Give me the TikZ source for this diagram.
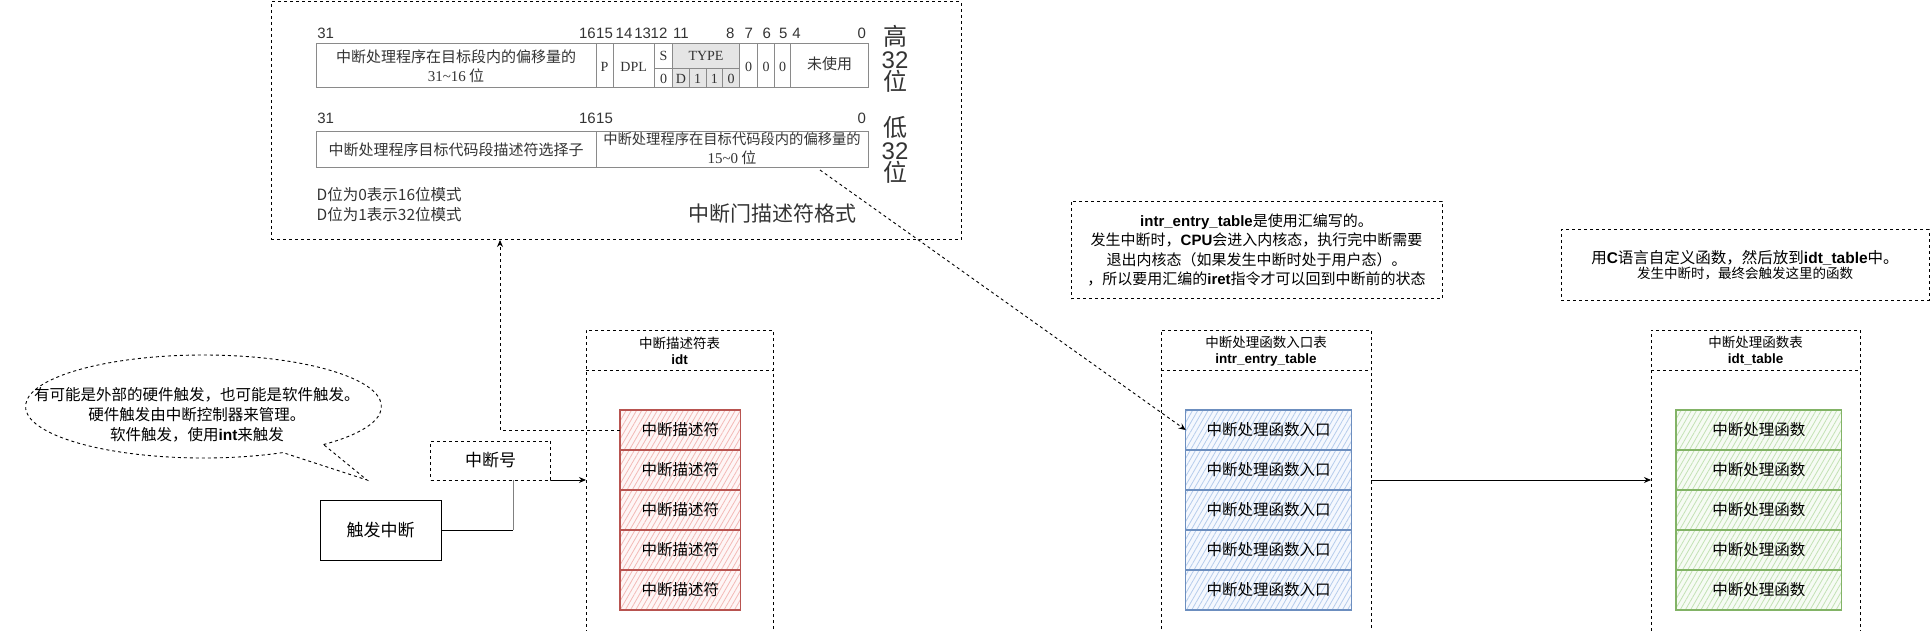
\documentclass[tikz,border=0pt]{standalone}
\usepackage{fontspec}
\setmainfont{Noto Sans CJK SC}
\newfontfamily\lat{Liberation Sans}
\newfontfamily\latserif{Liberation Serif}
\usetikzlibrary{arrows.meta,patterns.meta}
\newcommand\B[1]{{\lat\bfseries #1}}
\newcommand\fs[2]{\fontsize{#1}{#2}\selectfont}
\definecolor{redline}{HTML}{B85450}
\definecolor{redhatch}{HTML}{F3B9B6}
\definecolor{redfill}{HTML}{FEF6F6}
\definecolor{blueline}{HTML}{6C8EBF}
\definecolor{bluehatch}{HTML}{B5CCEC}
\definecolor{bluefill}{HTML}{F5F8FE}
\definecolor{greenline}{HTML}{82B366}
\definecolor{greenhatch}{HTML}{C3E2B4}
\definecolor{greenfill}{HTML}{F6FBF4}
\definecolor{imgtext}{HTML}{333333}
\definecolor{imgline}{HTML}{8A8A8A}
\begin{document}
\begin{tikzpicture}[x=1pt,y=-1pt,
  dsh/.style={dash pattern=on 3pt off 3pt},
  arr/.style={-{Stealth[length=7pt,width=6pt]}},
  box/.style={draw, line width=1pt, inner sep=0pt, outer sep=0pt},
  lane/.style={box, dsh},
  lanehead/.style={align=center, font=\fs{13.5}{16}},
  item/.style={inner sep=0pt, outer sep=0pt, minimum height=40, line width=1.2pt, font=\fs{15.5}{18}},
  reditem/.style={item, minimum width=120.7, draw=redline, preaction={fill=redfill}, pattern={Lines[angle=60,distance=4.5pt,line width=0.8pt]}, pattern color=redhatch},
  blueitem/.style={item, minimum width=166, draw=blueline, preaction={fill=bluefill}, pattern={Lines[angle=60,distance=4.5pt,line width=0.8pt]}, pattern color=bluehatch},
  greenitem/.style={item, minimum width=165.7, draw=greenline, preaction={fill=greenfill}, pattern={Lines[angle=60,distance=4.5pt,line width=0.8pt]}, pattern color=greenhatch},
  bitlbl/.style={inner sep=0pt, text=imgtext, font=\lat\fs{15}{17}},
  cell/.style={inner sep=0pt, text=imgtext, font=\fs{15}{18}, align=center},
  sercell/.style={inner sep=0pt, text=imgtext, font=\latserif\fs{14}{16}},
  note/.style={box, dsh, align=center},
]
\useasboundingbox (0,0) rectangle (1931,631);
\clip (0,0) rectangle (1931,631);

% ---------- descriptor format panel ----------
\node[box, dsh, minimum width=690, minimum height=238, anchor=north west] (fmt) at (271,2) {};
\fill[black!10] (672.4,43.5) rectangle (739.7,88);
\begin{scope}[draw=imgline, line width=1pt]
\draw (316.5,43.5) rectangle (868,88);
\foreach \x in {596,613,654.5,672.4,739.7,757.7,774.3,790.9} \draw (\x,43.5) -- (\x,88);
\draw (654.5,68.3) -- (739.7,68.3);
\foreach \x in {689.2,706,722.7} \draw (\x,68.3) -- (\x,88);
\draw (316.5,131.7) rectangle (868,167.3);
\draw (596,131.7) -- (596,167.3);
\end{scope}
% bit numbers
\foreach \t/\x [count=\k] in {31/325.6,14/624,13/642.7,12/659,11/681,8/730.3,7/748.7,6/766.7,5/783.2,4/796.6,0/861.7}
  \node[bitlbl] (bu\k) at (\x,33.3) {\t};
\node[bitlbl, anchor=east] (bu16) at (596,33.3) {16};
\node[bitlbl, anchor=west] (bu15) at (596,33.3) {15};
\node[bitlbl] (bl31) at (325.6,118.3) {31};
\node[bitlbl, anchor=east] (bl16) at (596,118.3) {16};
\node[bitlbl, anchor=west] (bl15) at (596,118.3) {15};
\node[bitlbl] (bl0) at (861.7,118.3) {0};
% upper row cells
\node[cell] (u1) at (456,57) {中断处理程序在目标段内的偏移量的};
\node[cell] (u2) at (456,75.5) {{\latserif 31\textasciitilde16} 位};
\node[sercell] (cp) at (604.5,66.5) {P};
\node[sercell] (cdpl) at (633.7,66.5) {DPL};
\node[sercell] (cs) at (663.5,56) {S};
\node[sercell] (ctype) at (706,56) {TYPE};
\foreach \t/\x [count=\k] in {0/663.5,D/680.8,1/697.6,1/714.3,0/731.2}
  \node[sercell] (ct\k) at (\x,78.5) {\t};
\foreach \x [count=\k] in {748.7,766,782.6}
  \node[sercell] (cz\k) at (\x,66.5) {0};
\node[cell] (cunused) at (829.5,64) {未使用};
% lower row cells
\node[cell] (l1) at (456,150) {中断处理程序目标代码段描述符选择子};
\node[cell, font=\fs{14.3}{18}] (l2) at (732,139) {中断处理程序在目标代码段内的偏移量的};
\node[cell] (l3) at (732,157.5) {{\latserif 15\textasciitilde0} 位};
% side labels
\node[inner sep=0pt, align=center, text=imgtext, font=\fs{24}{22.5}] (hi) at (895,59) {高\\{\lat 32}\\位};
\node[inner sep=0pt, align=center, text=imgtext, font=\fs{24}{22.5}] (lo) at (895,150) {低\\{\lat 32}\\位};
\node[inner sep=0pt, anchor=west, text=imgtext, font=\fs{15.5}{18}] (dn1) at (316.5,195) {D位为0表示16位模式};
\node[inner sep=0pt, anchor=west, text=imgtext, font=\fs{15.5}{18}] (dn2) at (316.5,215) {D位为1表示32位模式};
\node[inner sep=0pt, text=imgtext, font=\fs{21}{24}] (fmtlabel) at (772,214) {中断门描述符格式};

% ---------- callout bubble ----------
\node[inner sep=0pt, align=center, font=\fs{15.5}{20}] (bubtext) at (197,415)
  {有可能是外部的硬件触发，也可能是软件触发。\\硬件触发由中断控制器来管理。\\软件触发，使用\B{int}来触发};
\coordinate (tip) at (367,480);
\draw[dsh, line width=0.9pt] (203.5,406.5) ++(47.6:178 and 51.5)
  arc[start angle=47.6, end angle=-296.5, x radius=178, y radius=51.5] -- (tip) -- cycle;

% ---------- trigger ----------
\node[box, minimum width=121, minimum height=60, font=\fs{17}{20}] (trig) at (380.5,530) {触发中断};
\coordinate (bend1) at (513,530);
\coordinate (bend2) at (513,480);
\draw[line width=1pt] (trig.east) -- (bend1);
\draw[line width=1pt, black!50] (bend1) -- (bend2);
\node[box, dsh, fill=white, minimum width=120, minimum height=39, font=\fs{17}{20}] (intno) at (490.5,460.5) {中断号};

% ---------- lanes ----------
\node[lane, minimum width=187, minimum height=310] (idt) at (679.5,485) {};
\draw[dsh, line width=1pt] (idt.north west) ++(0,40.7) -- ++(187,0);
\node[lanehead] (idthead) at (679.5,351) {中断描述符表\\\B{idt}};

\node[lane, minimum width=210, minimum height=310] (iet) at (1266,485) {};
\draw[dsh, line width=1pt] (iet.north west) ++(0,40.7) -- ++(210,0);
\node[lanehead] (iethead) at (1266,351) {中断处理函数入口表\\\B{intr\_entry\_table}};

\node[lane, minimum width=209, minimum height=310] (idtt) at (1755.5,485) {};
\draw[dsh, line width=1pt] (idtt.north west) ++(0,40.7) -- ++(209,0);
\node[lanehead] (idtthead) at (1755.5,351) {中断处理函数表\\\B{idt\_table}};

\foreach \i in {0,...,4} {
  \node[reditem] (r\i) at (680.3,430+40*\i) {中断描述符};
  \node[blueitem] (b\i) at (1268.7,430+40*\i) {中断处理函数入口};
  \node[greenitem] (g\i) at (1758.8,430+40*\i) {中断处理函数};
}

% ---------- notes ----------
\node[note, minimum width=371, minimum height=97, font=\fs{15}{19.3}] (note2) at (1256.5,250)
  {\B{intr\_entry\_table}是使用汇编写的。\\发生中断时，\B{CPU}会进入内核态，执行完中断需要\\退出内核态（如果发生中断时处于用户态）。\\，所以要用汇编的\B{iret}指令才可以回到中断前的状态};
\node[note, minimum width=368, minimum height=70] (note3) at (1745,265)
  {\fs{15.5}{17}用\B{C}语言自定义函数，然后放到\B{idt\_table}中。\\\fs{13.5}{17}发生中断时，最终会触发这里的函数};

% ---------- connectors ----------
\draw[arr, line width=1pt] (intno.south east) -- (intno.south east -| idt.west);
\coordinate (c1) at (500,430);
\draw[arr, dsh, line width=0.9pt] (r0.west) -- (c1) -- (c1 |- fmt.south);
\coordinate (c3) at (820,170);
\draw[arr, dsh, line width=0.9pt] (c3) -- (b0.west);
\coordinate (c4) at (1300,480);
\draw[arr, line width=1pt] (c4 -| iet.east) -- (c4 -| idtt.west);
\end{tikzpicture}
\end{document}
